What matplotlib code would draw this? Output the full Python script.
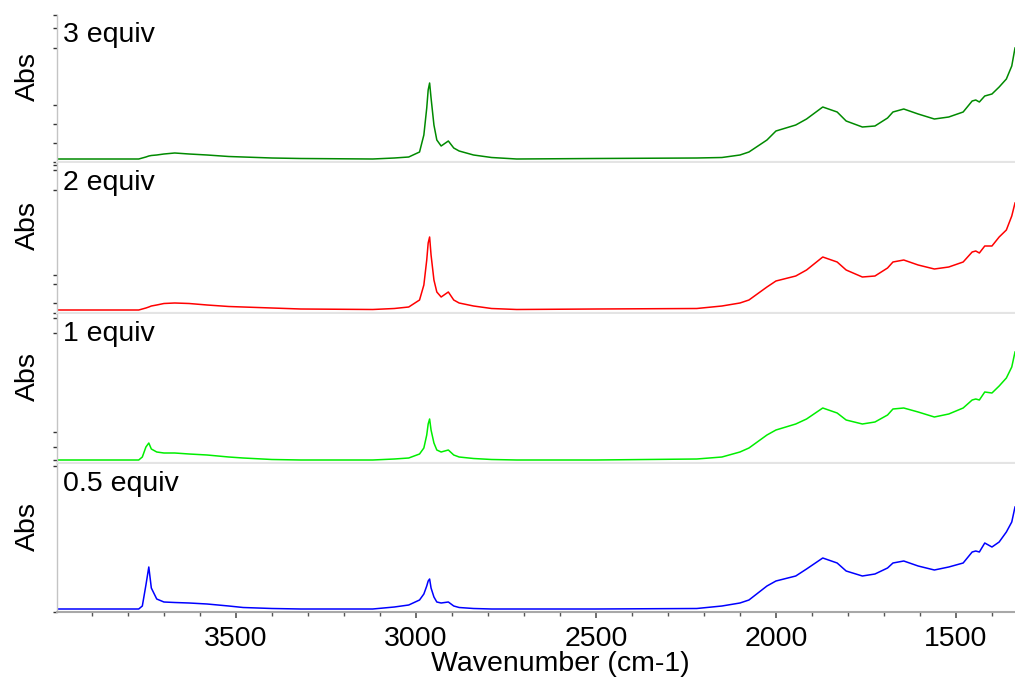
import numpy as np
import matplotlib
matplotlib.use("Agg")
import matplotlib.pyplot as plt
from matplotlib.ticker import MultipleLocator

plt.rcParams['font.family'] = ['Liberation Sans', 'DejaVu Sans']

# wavenumber grid (cm-1), shared by all spectra
wavenumber = [4000, 3770, 3760, 3750, 3742, 3735, 3720, 3700, 3670, 3630,
              3580, 3520, 3480, 3400, 3320, 3120, 3060, 3020, 2990, 2978,
              2970, 2966, 2962, 2958, 2950, 2942, 2930, 2910, 2895, 2880,
              2840, 2790, 2720, 2500, 2220, 2150, 2100, 2075, 2025, 2000,
              1945, 1915, 1870, 1830, 1805, 1760, 1725, 1690, 1675, 1645,
              1605, 1560, 1520, 1480, 1455, 1445, 1435, 1420, 1400, 1380,
              1360, 1345, 1336]

abs_3eq = [0.03, 0.03, 0.04, 0.05, 0.06, 0.065, 0.07, 0.08, 0.09, 0.08,
           0.07, 0.055, 0.05, 0.04, 0.035, 0.03, 0.04, 0.05, 0.10, 0.27,
           0.54, 0.72, 0.79, 0.64, 0.37, 0.22, 0.16, 0.21, 0.14, 0.11,
           0.07, 0.045, 0.03, 0.035, 0.04, 0.045, 0.07, 0.10, 0.22, 0.31,
           0.37, 0.43, 0.55, 0.50, 0.41, 0.35, 0.36, 0.44, 0.50, 0.53,
           0.48, 0.43, 0.45, 0.50, 0.61, 0.62, 0.60, 0.66, 0.68, 0.75,
           0.83, 0.96, 1.14]

abs_2eq = [0.03, 0.03, 0.04, 0.05, 0.06, 0.07, 0.08, 0.095, 0.10, 0.095,
           0.08, 0.065, 0.06, 0.05, 0.04, 0.035, 0.045, 0.06, 0.13, 0.28,
           0.53, 0.70, 0.76, 0.58, 0.33, 0.21, 0.16, 0.21, 0.13, 0.10,
           0.07, 0.045, 0.035, 0.04, 0.045, 0.07, 0.10, 0.13, 0.26, 0.32,
           0.37, 0.43, 0.56, 0.51, 0.43, 0.36, 0.37, 0.45, 0.51, 0.53,
           0.48, 0.44, 0.46, 0.51, 0.61, 0.62, 0.60, 0.67, 0.67, 0.76,
           0.83, 0.97, 1.10]

abs_1eq = [0.03, 0.03, 0.06, 0.16, 0.20, 0.14, 0.11, 0.10, 0.10, 0.09,
           0.08, 0.06, 0.05, 0.035, 0.03, 0.03, 0.04, 0.05, 0.09, 0.15,
           0.28, 0.39, 0.44, 0.33, 0.20, 0.13, 0.11, 0.13, 0.08, 0.06,
           0.045, 0.035, 0.03, 0.03, 0.04, 0.06, 0.11, 0.15, 0.28, 0.33,
           0.39, 0.44, 0.55, 0.50, 0.43, 0.39, 0.41, 0.48, 0.54, 0.55,
           0.51, 0.46, 0.49, 0.55, 0.63, 0.64, 0.63, 0.71, 0.70, 0.77,
           0.85, 0.96, 1.11]

abs_05eq = [0.03, 0.03, 0.06, 0.27, 0.45, 0.24, 0.13, 0.10, 0.095, 0.09,
            0.08, 0.06, 0.045, 0.035, 0.03, 0.03, 0.05, 0.07, 0.12, 0.18,
            0.26, 0.31, 0.33, 0.24, 0.15, 0.10, 0.09, 0.10, 0.06, 0.045,
            0.035, 0.03, 0.03, 0.03, 0.035, 0.06, 0.09, 0.12, 0.26, 0.31,
            0.36, 0.43, 0.54, 0.49, 0.41, 0.36, 0.38, 0.44, 0.49, 0.51,
            0.46, 0.42, 0.45, 0.49, 0.60, 0.61, 0.60, 0.69, 0.65, 0.70,
            0.80, 0.90, 1.05]

labels = ["3 equiv", "2 equiv", "1 equiv", "0.5 equiv"]
spectra = [abs_3eq, abs_2eq, abs_1eq, abs_05eq]
colors = ["#008a00", "#ff0000", "#00ee00", "#0000ff"]
# small unlabeled ticks on each Abs axis
yticks = [[0.0, 0.19, 0.38, 0.57, 1.14, 1.34, 1.47],
          [0.0, 0.10, 0.29, 0.38, 1.23, 1.43, 1.48],
          [0.03, 0.16, 0.31, 1.30, 1.45],
          [0.0, 1.46]]

W, H = 1015, 680
left, right = 57, 1015
panels = [(15, 162), (163, 313), (314, 463), (464, 612)]

fig = plt.figure(figsize=(W / 100, H / 100), dpi=100)
axes = []
for i, (top, bot) in enumerate(panels):
    ax = fig.add_axes([left / W, 1 - bot / H, (right - left) / W, (bot - top) / H])
    ax.plot(wavenumber, spectra[i], color=colors[i], lw=1.1)
    ax.set_xlim(3997, 1336)
    ax.set_ylim(0, (bot - top) / 100)

    ax.spines['top'].set_visible(False)
    ax.spines['right'].set_visible(False)
    ax.spines['left'].set_color('#c4c4c4')
    ax.spines['left'].set_linewidth(1.0)

    ax.set_yticks(yticks[i])
    ax.set_yticklabels([])
    ax.tick_params(axis='y', length=3, width=1, color='#333333', direction='out')

    ax.text(0.006, 0.95, labels[i], transform=ax.transAxes, fontsize=20.5,
            ha='left', va='top')
    ax.set_ylabel("Abs", fontsize=20.5)
    ax.yaxis.set_label_coords(-0.017, 0.58)

    if i < 3:
        ax.spines['bottom'].set_color('#e4e4e4')
        ax.spines['bottom'].set_linewidth(1.6)
        ax.set_xticks([])
    else:
        ax.spines['bottom'].set_color('#a8a8a8')
        ax.spines['bottom'].set_linewidth(1.5)
        ax.set_xticks([3500, 3000, 2500, 2000, 1500])
        ax.xaxis.set_minor_locator(MultipleLocator(100))
        ax.tick_params(axis='x', which='major', length=4, width=1.2,
                       color='#555555', labelsize=20.5, pad=6)
        ax.tick_params(axis='x', which='minor', length=3, width=1,
                       color='#555555')
        ax.set_xlabel("Wavenumber (cm-1)", fontsize=20.5)
        ax.xaxis.set_label_coords(0.525, -0.265)
    axes.append(ax)

fig.savefig("out.png", dpi=100)
